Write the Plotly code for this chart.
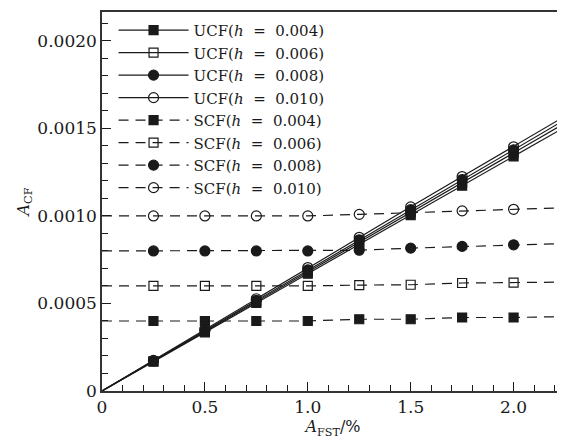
import plotly.graph_objects as go

# x positions: line endpoints at 0 and 2.25, markers at 0.25..2.0
x_line = [0, 0.25, 0.5, 0.75, 1.0, 1.25, 1.5, 1.75, 2.0, 2.25]

ucf_004 = [0, 0.000168, 0.000335, 0.000503, 0.000670, 0.000838, 0.001005, 0.001173, 0.001340, 0.001508]
ucf_006 = [0, 0.000170, 0.000340, 0.000510, 0.000680, 0.000850, 0.001020, 0.001190, 0.001360, 0.001530]
ucf_008 = [0, 0.000172, 0.000346, 0.000518, 0.000692, 0.000864, 0.001036, 0.001208, 0.001378, 0.001550]
ucf_010 = [0, 0.000175, 0.000352, 0.000527, 0.000705, 0.000878, 0.001052, 0.001225, 0.001395, 0.001570]

scf_004 = [0.00040, 0.00040, 0.00040, 0.00040, 0.00040, 0.000410, 0.000410, 0.000420, 0.000420, 0.000425]
scf_006 = [0.00060, 0.00060, 0.00060, 0.00060, 0.00060, 0.000605, 0.000607, 0.000617, 0.000619, 0.000622]
scf_008 = [0.00080, 0.00080, 0.00080, 0.00080, 0.00080, 0.000804, 0.000816, 0.000826, 0.000835, 0.000842]
scf_010 = [0.00100, 0.00100, 0.00100, 0.00100, 0.00100, 0.001009, 0.001018, 0.001029, 0.001038, 0.001047]

SP = "&nbsp;&nbsp;"
labels_ucf = [f"UCF(<i>h</i>{SP}={SP}0.004)", f"UCF(<i>h</i>{SP}={SP}0.006)",
              f"UCF(<i>h</i>{SP}={SP}0.008)", f"UCF(<i>h</i>{SP}={SP}0.010)"]
labels_scf = [f"SCF(<i>h</i>{SP}={SP}0.004)", f"SCF(<i>h</i>{SP}={SP}0.006)",
              f"SCF(<i>h</i>{SP}={SP}0.008)", f"SCF(<i>h</i>{SP}={SP}0.010)"]
symbols = ["square", "square-open", "circle", "circle-open"]
sizes = [9, 9, 10, 10]

x_ticks = [0, 0.5, 1.0, 1.5, 2.0]
x_ticktext = ["0", "0.5", "1.0", "1.5", "2.0"]
y_ticks = [0, 0.0005, 0.0010, 0.0015, 0.0020]
y_ticktext = ["0", "0.0005", "0.0010", "0.0015", "0.0020"]

INK = "#1a1a1a"
FONT = "DejaVu Serif"
DASH = "10px,7px"

fig = go.Figure()

def add_series(yvals, symbol, size, dash):
    fig.add_trace(go.Scatter(
        x=x_line, y=yvals, mode="lines", showlegend=False,
        line=dict(color=INK, width=1.2, dash=dash), hoverinfo="skip"))
    fig.add_trace(go.Scatter(
        x=x_line[1:-1], y=yvals[1:-1], mode="markers", showlegend=False,
        marker=dict(symbol=symbol, size=size, color=INK,
                    line=dict(color=INK, width=1.2))))

scf_all = [scf_004, scf_006, scf_008, scf_010]
ucf_all = [ucf_004, ucf_006, ucf_008, ucf_010]

for ys, sym, sz in zip(scf_all, symbols, sizes):
    add_series(ys, sym, sz, DASH)
for ys, sym, sz in zip(ucf_all, symbols, sizes):
    add_series(ys, sym, sz, "solid")

# legend entries
for lab, sym, sz in zip(labels_ucf, symbols, sizes):
    fig.add_trace(go.Scatter(x=[None], y=[None], mode="lines+markers", name=lab,
                             line=dict(color=INK, width=1.2),
                             marker=dict(symbol=sym, size=sz, color=INK, line=dict(color=INK, width=1.2))))
for lab, sym, sz in zip(labels_scf, symbols, sizes):
    fig.add_trace(go.Scatter(x=[None], y=[None], mode="lines+markers", name=lab,
                             line=dict(color=INK, width=1.2, dash=DASH),
                             marker=dict(symbol=sym, size=sz, color=INK, line=dict(color=INK, width=1.2))))

# page body has an 8px margin, so the figure is sized/offset to compensate
fig.update_layout(
    width=557, height=436,
    margin=dict(l=94, r=1, t=4, b=53, autoexpand=False),
    paper_bgcolor="white", plot_bgcolor="white",
    font=dict(family=FONT, size=16, color=INK),
    legend=dict(x=0.025, y=0.995, xanchor="left", yanchor="top",
                bgcolor="rgba(0,0,0,0)", borderwidth=0, itemwidth=70,
                font=dict(family=FONT, size=15, color=INK), tracegroupgap=0),
    xaxis=dict(range=[0, 2.245], tickvals=x_ticks, ticktext=x_ticktext, automargin=False,
               ticks="inside", ticklen=9, tickwidth=1, tickcolor=INK,
               minor=dict(dtick=0.1, ticks="inside", ticklen=6, tickcolor=INK, tickwidth=1),
               showgrid=False, zeroline=False, showline=True, linecolor="#333", linewidth=1.5,
               mirror=True, tickfont=dict(size=17),
               title=dict(text="<i>A</i><sub>FST</sub>/%", standoff=5, font=dict(size=16))),
    yaxis=dict(range=[0, 0.002165], tickvals=y_ticks, ticktext=y_ticktext, automargin=False,
               ticks="inside", ticklen=9, tickwidth=1, tickcolor=INK,
               minor=dict(dtick=0.0001, ticks="inside", ticklen=6, tickcolor=INK, tickwidth=1),
               showgrid=False, zeroline=False, showline=True, linecolor="#333", linewidth=1.5,
               mirror=True, tickfont=dict(size=17),
               title=dict(text="<i>A</i><sub>CF</sub>", standoff=4, font=dict(size=16))),
)

fig.write_html("out.html")
